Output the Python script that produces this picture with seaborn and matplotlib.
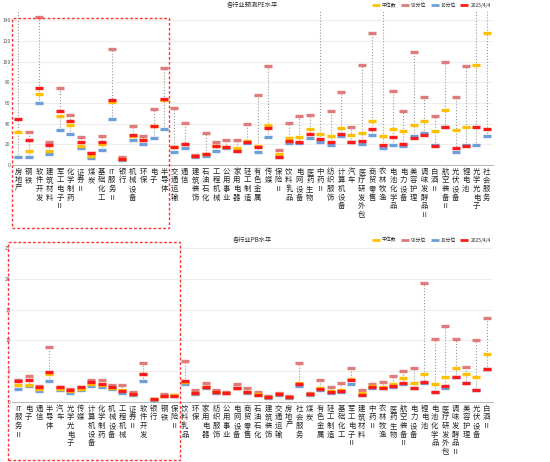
import numpy as np
import pandas as pd
import matplotlib
matplotlib.use('Agg')
import matplotlib.pyplot as plt
import seaborn as sns
from matplotlib.patches import Rectangle

sns.set_theme(style='white')
plt.rcParams['font.family'] = ['Noto Sans CJK SC', 'DejaVu Sans']

# PE panel
pe_cats = ['房地产', '钢铁', '软件开发', '建筑材料', '军工电子Ⅱ', '化学制药', '证券Ⅱ', '煤炭', '基础化工', 'IT服务Ⅱ',
           '银行', '机械设备', '环保', '电子', '半导体', '交通运输', '通信', '建筑装饰', '石油石化', '工程机械',
           '公用事业', '家用电器', '轻工制造', '有色金属', '传媒', '保险Ⅱ', '饮料乳品', '电网设备', '医药生物', '中药Ⅱ',
           '纺织服饰', '计算机设备', '汽车', '医疗研发外包', '商贸零售', '农林牧渔', '电池化学品', '电力设备', '美容护理',
           '调味发酵品Ⅱ', '白酒Ⅱ', '航空装备Ⅱ', '光伏设备', '锂电池', '光学光电子', '社会服务']
pe_p90 = [200, 31.6, 143, 22, 74.6, 48.5, 27, 12, 27.7, 112, 7.5, 37.5, 27.7, 54, 93.5, 55, 40.7, 9.4, 31, 22,
          24, 24, 39.4, 68, 95.4, 14.6, 40.7, 47, 48.8, 200, 51.8, 70.7, 36.8, 96.7, 128, 200, 71.6, 52, 109,
          65.8, 47, 100, 66, 95.4, 200, 200]
pe_med = [31.6, 14, 69, 14, 47, 39, 18.5, 8.8, 20.5, 61, 6.2, 27.7, 23.8, 37.5, 63, 17, 20, 8.8, 10.7, 18,
          17.3, 16, 23, 18, 38.4, 10.7, 25.7, 27, 35, 29.6, 28.3, 36, 29, 30.6, 43, 28, 35, 33, 39,
          43, 32.6, 53, 34, 36.8, 97, 128]
pe_p10 = [8, 8, 60, 11, 33.5, 30, 16, 6.5, 15, 44.6, 5, 24.4, 20.5, 25.7, 35, 13, 16, 8, 8.8, 14,
          16, 14, 21, 13, 26.7, 8, 21, 21, 25.7, 22.5, 19.2, 27.7, 21.8, 20.5, 29, 16, 19.2, 18, 27.7,
          30.6, 19, 36.5, 12.4, 19, 19, 28.3]
pe_cur = [45, 24, 75, 19, 52, 43, 22, 11.4, 22, 62.5, 6.2, 28.6, 23.8, 37.5, 63.5, 17, 20.5, 8.8, 10.4, 18,
          17, 14, 22, 17, 36, 8, 22.8, 22.5, 30.3, 25, 21.8, 29.6, 21.8, 23, 34.8, 19.5, 26.7, 20.8, 26.4,
          28.6, 18.6, 36.5, 16.3, 18.6, 36.8, 34.8]

# PB panel
pb_cats = ['IT服务Ⅱ', '电子', '通信', '半导体', '汽车', '光学光电子', '传媒', '计算机设备', '化学制药', '机械设备',
           '工程机械', '证券Ⅱ', '软件开发', '银行', '钢铁', '保险Ⅱ', '饮料乳品', '环保', '家用电器', '纺织服饰',
           '公用事业', '电网设备', '商贸零售', '石油石化', '建筑装饰', '交通运输', '房地产', '社会服务', '煤炭', '有色金属',
           '轻工制造', '基础化工', '军工电子Ⅱ', '建筑材料', '中药Ⅱ', '农林牧渔', '医药生物', '航空装备Ⅱ', '电力设备', '锂电池',
           '电池化学品', '医疗研发外包', '调味发酵品Ⅱ', '美容护理', '光伏设备', '白酒Ⅱ']
pb_p90 = [3.6, 4.3, 2.65, 9.0, 2.5, 2.1, 2.5, 3.5, 3.5, 2.8, 2.7, 1.6, 6.3, 0.5, 1.25, 1.2, 6.6, 1.9, 3.1, 1.9,
          1.7, 3.0, 2.3, 1.7, 0.9, 1.46, 1.0, 6.3, 1.5, 3.5, 2.4, 3.1, 5.5, 2.0, 3.0, 3.25, 4.3, 5.0, 5.6, 19.4,
          10.3, 12.3, 10.2, 5.7, 10.0, 13.7]
pb_med = [2.7, 2.8, 2.1, 4.6, 2.1, 1.8, 2.1, 3.0, 2.8, 2.3, 1.9, 1.35, 4.6, 0.45, 1.0, 1.1, 3.25, 1.46, 2.4, 1.7,
          1.5, 2.3, 1.7, 1.25, 0.8, 1.3, 0.8, 3.1, 1.25, 2.3, 1.8, 2.0, 3.8, 1.4, 2.65, 2.5, 2.9, 3.9, 3.1, 4.5,
          3.0, 4.0, 5.5, 4.5, 4.0, 7.8]
pb_p10 = [2.05, 2.65, 1.84, 3.35, 2.0, 1.46, 1.9, 2.65, 2.5, 2.05, 1.5, 1.1, 3.4, 0.4, 0.9, 1.0, 3.0, 1.35, 2.3, 1.5,
          1.4, 2.2, 1.4, 1.1, 0.7, 1.2, 0.7, 2.6, 1.1, 2.0, 1.46, 1.7, 3.0, 1.1, 2.3, 2.3, 2.4, 2.9, 2.2, 3.1,
          1.7, 2.3, 4.05, 3.1, 2.0, 5.4]
pb_cur = [3.4, 3.5, 2.5, 4.9, 2.4, 1.9, 2.5, 3.2, 3.0, 2.5, 1.8, 1.35, 4.5, 0.45, 1.0, 1.05, 3.35, 1.46, 2.4, 1.7,
          1.5, 2.2, 1.6, 1.2, 0.76, 1.3, 0.76, 3.0, 1.25, 2.1, 1.7, 1.84, 3.5, 1.2, 2.4, 2.3, 2.6, 3.1, 2.3, 3.25,
          1.7, 2.65, 4.05, 3.1, 2.0, 5.4]

series = [('90分位', '#e07b7b'), ('10分位', '#6f9fd8'), ('中位数', '#ffc000'), ('2025/4/4', '#ff1a1a')]
legend_order = ['中位数', '90分位', '10分位', '2025/4/4']


def vlabel(s):
    s = s.replace('IT', '\u0000')
    chars = [('IT' if c == '\u0000' else c) for c in s]
    return '\n'.join(chars)


def draw(ax, title, cats, p90, med, p10, cur, ymax, yticks):
    df = pd.DataFrame({'cat': cats, 'x': np.arange(len(cats)), '90分位': p90, '10分位': p10,
                       '中位数': med, '2025/4/4': cur})
    ax.vlines(df['x'], df['10分位'], df['90分位'], colors='#999999', linestyles=':', linewidth=0.8, zorder=1)
    handles = {}
    for name, col in series:
        sns.scatterplot(data=df, x='x', y=name, ax=ax, marker='_', s=35, linewidth=2.4,
                        color=col, label=name, zorder=3, legend=False)
        handles[name] = plt.Line2D([], [], color=col, marker='_', linestyle='', markersize=6, markeredgewidth=2)
    ax.set_xlim(-0.6, len(cats) - 0.4)
    ax.set_ylim(0, ymax)
    ax.set_yticks(yticks)
    ax.tick_params(axis='y', labelsize=3.5, length=0, pad=1, colors='#555555')
    ax.set_xticks(df['x'])
    ax.set_xticklabels([vlabel(c) for c in cats], fontsize=5.3, linespacing=1.1, va='top')
    ax.tick_params(axis='x', length=0, pad=2)
    ax.grid(axis='y', color='#eeeeee', linewidth=0.8)
    ax.set_xlabel('')
    ax.set_ylabel('')
    for sp in ['top', 'right', 'left']:
        ax.spines[sp].set_visible(False)
    ax.spines['bottom'].set_color('#aaaaaa')
    ax.spines['bottom'].set_linewidth(0.6)
    ax.set_title(title, fontsize=4.5, pad=2)
    ax.legend([handles[n] for n in legend_order], legend_order, loc='upper right', ncol=4, fontsize=3.5,
              frameon=False, handlelength=1, columnspacing=1.2, bbox_to_anchor=(1.0, 1.06), borderaxespad=0)


fig = plt.figure(figsize=(5.5, 4.62), dpi=100)
ax1 = fig.add_axes([12 / 550, 1 - 165 / 462, 481 / 550, 155 / 462])
ax2 = fig.add_axes([12 / 550, 1 - 402 / 462, 481 / 550, 157 / 462])
draw(ax1, '各行业预测PE水平', pe_cats, pe_p90, pe_med, pe_p10, pe_cur, 150, np.arange(0, 141, 20))
draw(ax2, '各行业PB水平', pb_cats, pb_p90, pb_med, pb_p10, pb_cur, 25.5, np.arange(0, 26, 5))

fig.patches.append(Rectangle((12 / 550, 1 - 228 / 462), 157 / 550, 210 / 462, transform=fig.transFigure,
                             fill=False, edgecolor='#ff3333', linestyle=(0, (2, 1.5)), linewidth=1))
fig.patches.append(Rectangle((8 / 550, 1 - 460 / 462), 172 / 550, 218 / 462, transform=fig.transFigure,
                             fill=False, edgecolor='#ff3333', linestyle=(0, (2, 1.5)), linewidth=1))

fig.savefig('out.png', dpi=100)
